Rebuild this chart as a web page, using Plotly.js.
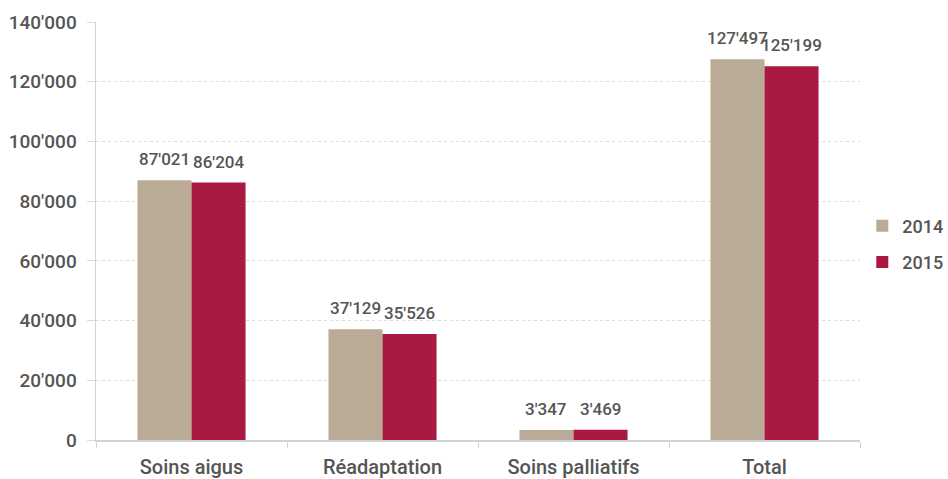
<!DOCTYPE html>
<html>
<head>
<meta charset="utf-8">
<script src="https://cdn.plot.ly/plotly-3.0.1.min.js"></script>
<style>
  html, body { margin: 0; padding: 0; background: #fff; }
  #chart { width: 948px; height: 479px; }
</style>
</head>
<body>
<div id="chart"></div>
<script>
// Cas par type de soins, 2014 et 2015
const categories = ['Soins aigus', 'Réadaptation', 'Soins palliatifs', 'Total'];
const years = ['2014', '2015'];
const values2014 = [87021, 37129, 3347, 127497];
const values2015 = [86204, 35526, 3469, 125199];
const yTicks = [0, 20000, 40000, 60000, 80000, 100000, 120000, 140000];

const fontFamily = 'Roboto, "Liberation Sans", sans-serif';
const textColor = '#555555';
const colors = ['#b9ab95', '#a91942'];
const barWidth = 0.283;   // fraction of a category band per bar

const seriesValues = [values2014, values2015];

function formatThousands(v) {
  return Number(v).toLocaleString('en-US').replace(/,/g, "'");
}

const data = seriesValues.map((vals, s) => ({
  type: 'bar',
  name: years[s],
  legendgroup: years[s],
  x: categories,
  y: vals,
  width: barWidth,
  offset: s === 0 ? -barWidth : 0,
  marker: { color: colors[s], line: { width: 0 } },
  hoverinfo: 'skip'
}));

// value labels above each bar, lifted a little clear of the bar top
const annotations = [];
seriesValues.forEach((vals, s) => {
  vals.forEach((v, i) => {
    annotations.push({
      x: i + (s === 0 ? -barWidth / 2 : barWidth / 2),
      y: v,
      xref: 'x',
      yref: 'y',
      text: formatThousands(v),
      showarrow: false,
      yanchor: 'bottom',
      yshift: 9,
      font: { family: fontFamily, size: 17, color: textColor, weight: 500 }
    });
  });
});

const layout = {
  width: 948,
  height: 479,
  margin: { l: 96, r: 88, t: 22, b: 39, autoexpand: false },
  separators: ".'",
  barmode: 'overlay',
  paper_bgcolor: '#ffffff',
  plot_bgcolor: '#ffffff',
  font: { family: fontFamily, color: textColor, size: 19 },
  xaxis: {
    type: 'category',
    range: [-0.5, 3.5],
    showgrid: false,
    showline: true,
    linecolor: '#cdd3d8',
    linewidth: 1.5,
    ticks: 'outside',
    tickson: 'boundaries',
    ticklen: 6,
    tickcolor: '#cdd3d8',
    ticklabelstandoff: 8,
    tickfont: { family: fontFamily, size: 20, color: textColor, weight: 500 }
  },
  yaxis: {
    range: [0, 140000],
    tickvals: yTicks,
    tickformat: ',d',
    showline: true,
    linecolor: '#cdd3d8',
    linewidth: 1.5,
    showgrid: true,
    gridcolor: '#dcdcdc',
    griddash: 'dot',
    gridwidth: 1,
    ticks: 'outside',
    ticklen: 8,
    tickcolor: '#dcdcdc',
    ticklabelstandoff: 6,
    zeroline: false,
    tickfont: { family: fontFamily, size: 19, color: textColor, weight: 500 }
  },
  legend: {
    x: 1.003,
    y: 0.469,
    yanchor: 'middle',
    xanchor: 'left',
    traceorder: 'grouped',
    tracegroupgap: 10,
    itemwidth: 30,
    font: { family: fontFamily, size: 18, color: textColor, weight: 500 }
  },
  annotations: annotations,
  showlegend: true
};

Plotly.newPlot('chart', data, layout, { displayModeBar: false, staticPlot: true });
</script>
</body>
</html>
